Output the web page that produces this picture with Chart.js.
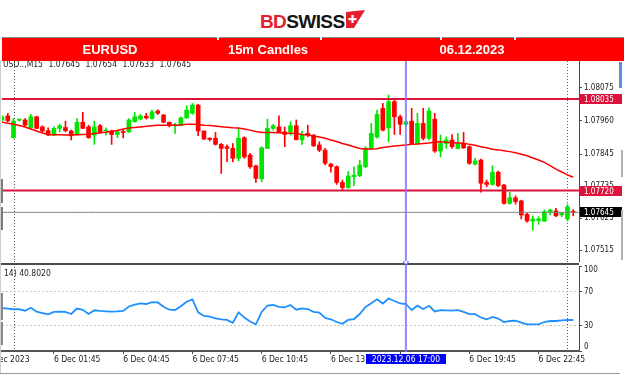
<!DOCTYPE html>
<html><head><meta charset="utf-8">
<script src="https://cdn.jsdelivr.net/npm/chart.js@4.4.0/dist/chart.umd.min.js"></script>
<style>
html,body{margin:0;padding:0;background:#fff;}
body{width:624px;height:376px;overflow:hidden;position:relative;font-family:'Liberation Sans',Arial,sans-serif;}
.abs{position:absolute;}
#band{position:absolute;left:2px;top:37px;width:622px;height:24px;background:#ff0000;border-top:1px solid #8a8a8a;box-sizing:border-box;z-index:5;}
.cell{position:absolute;top:0;height:23px;line-height:23px;color:#fff;font-weight:bold;font-size:13px;white-space:nowrap;transform:translateX(-50%);}
.notch{position:absolute;top:-1px;width:2px;height:3px;background:#fff;}
.mt{position:absolute;font-family:'DejaVu Sans Condensed','Liberation Sans',sans-serif;font-size:8.5px;line-height:10px;color:#1a1a1a;white-space:nowrap;z-index:4;}
canvas{position:absolute;left:0;}
</style></head><body>

<div class="abs" style="left:260px;top:12px;font-weight:bold;font-size:19px;line-height:19px;letter-spacing:-0.6px;white-space:nowrap;"><span style="color:#e41e2b">BD</span><span style="color:#141414">SWISS</span></div>
<svg class="abs" style="left:345px;top:10px" width="20" height="18" viewBox="0 0 20 18">
  <polygon points="1,2 20,0 9,18 1,18" fill="#e41e2b"/>
  <rect x="3.5" y="8" width="8" height="2.2" fill="#fff"/>
  <rect x="6.4" y="5" width="2.2" height="8" fill="#fff"/>
</svg>

<div id="band">
  <div class="notch" style="left:215px"></div>
  <div class="notch" style="left:318px"></div>
  <div class="notch" style="left:438px"></div>
  <div class="notch" style="left:512px"></div>
  <div class="cell" style="left:108px">EURUSD</div>
  <div class="cell" style="left:266px">15m Candles</div>
  <div class="cell" style="left:470px">06.12.2023</div>
</div>

<canvas id="price" width="624" height="201" style="top:61px"></canvas>
<canvas id="rsi" width="624" height="112" style="top:261px"></canvas>

<div class="mt" style="left:3px;top:58.5px;word-spacing:3px;">USD..,M15 1.07645 1.07654 1.07633 1.07645</div>
<div class="mt" style="left:4px;top:268px;">14) 40.8020</div>

<div class="abs" style="left:0;top:61px;width:1px;height:312px;background:#cfcfcf"></div>
<div class="abs" style="left:1px;top:179px;width:2px;height:24px;background:#7a7a7a"></div>
<div class="abs" style="left:1px;top:207px;width:2px;height:23px;background:#7a7a7a"></div>
<div class="abs" style="left:1px;top:293px;width:2px;height:27px;background:#8a8a8a"></div>
<div class="abs" style="left:1px;top:322px;width:2px;height:23px;background:#8a8a8a"></div>
<div class="abs" style="left:0;top:373px;width:620px;height:1px;background:#9a9a9a"></div>
<div class="abs" style="left:619px;top:62px;width:3px;height:26px;background:#5a8ee0"></div>
<div class="abs" style="left:621px;top:150px;width:2px;height:27px;background:#b0b0b0"></div>
<div class="abs" style="left:621px;top:210px;width:2px;height:50px;background:#b0b0b0"></div>

<script>
const FONT = "'DejaVu Sans Condensed', 'Liberation Sans', sans-serif";

// ---- categories: 15-minute bars, 5 Dec 23:30 .. 7 Dec 00:30 ----
const categories = [];
const startMs = Date.UTC(2023, 11, 5, 23, 30);
for (let k = 0; k <= 100; k++) {
  const d = new Date(startMs + k * 15 * 60000);
  categories.push(d.getUTCDate() + ' Dec ' + String(d.getUTCHours()).padStart(2, '0') + ':' + String(d.getUTCMinutes()).padStart(2, '0'));
}

// ---- candle data (EURUSD M15) ----
const opens = [1.07963,1.07977,1.07902,1.07962,1.07963,1.07936,1.07974,1.07939,1.07926,1.07911,
1.07934,1.07937,1.07925,1.07913,1.07955,1.07939,1.07911,1.07943,1.07925,1.07925,
1.07913,1.07922,1.07922,1.07957,1.07966,1.07976,1.07968,1.07994,1.07980,1.07955,
1.07943,1.07945,1.07970,1.07986,1.08014,1.07925,1.07900,1.07900,1.07879,1.07871,
1.07865,1.07831,1.07902,1.07842,1.07805,1.07760,1.07865,1.07934,1.07939,1.07922,
1.07922,1.07943,1.07894,1.07917,1.07911,1.07877,1.07859,1.07811,1.07802,1.07748,
1.07730,1.07768,1.07771,1.07802,1.07865,1.07905,1.08003,1.07936,1.08026,1.07974,
1.07948,1.07959,1.07882,1.07951,1.07900,1.07966,1.07856,1.07882,1.07894,1.07865,
1.07882,1.07871,1.07811,1.07825,1.07748,1.07741,1.07783,1.07739,1.07676,1.07695,
1.07684,1.07638,1.07615,1.07617,1.07615,1.07647,1.07650,1.07636,1.07622,1.07645];
const highs = [1.07978,1.07986,1.07969,1.07966,1.07968,1.07982,1.07976,1.07943,1.07936,1.07939,
1.07948,1.07959,1.07928,1.07968,1.07989,1.07945,1.07959,1.07948,1.07936,1.07928,
1.07928,1.07928,1.07968,1.07989,1.07982,1.07986,1.07997,1.07998,1.07982,1.07956,
1.07951,1.07974,1.08012,1.08020,1.08017,1.07926,1.07902,1.07920,1.07882,1.07877,
1.07882,1.07934,1.07905,1.07848,1.07808,1.07871,1.07966,1.07948,1.07977,1.07939,
1.07957,1.07963,1.07925,1.07945,1.07913,1.07888,1.07865,1.07814,1.07805,1.07756,
1.07785,1.07802,1.07825,1.07871,1.07951,1.07997,1.08020,1.08049,1.08031,1.07980,
1.07959,1.08003,1.07986,1.08003,1.08005,1.07986,1.07911,1.07905,1.07913,1.07917,
1.07920,1.07874,1.07831,1.07828,1.07756,1.07805,1.07787,1.07741,1.07714,1.07702,
1.07687,1.07642,1.07633,1.07630,1.07653,1.07655,1.07659,1.07645,1.07673,1.07654];
const lows = [1.07959,1.07957,1.07900,1.07959,1.07943,1.07934,1.07933,1.07922,1.07909,1.07909,
1.07922,1.07922,1.07894,1.07911,1.07933,1.07900,1.07879,1.07917,1.07911,1.07879,
1.07902,1.07901,1.07920,1.07955,1.07963,1.07966,1.07966,1.07982,1.07953,1.07939,
1.07917,1.07943,1.07968,1.07982,1.07909,1.07895,1.07891,1.07877,1.07779,1.07819,
1.07819,1.07822,1.07831,1.07796,1.07748,1.07750,1.07865,1.07928,1.07920,1.07871,
1.07911,1.07894,1.07879,1.07905,1.07871,1.07854,1.07808,1.07783,1.07741,1.07722,
1.07728,1.07737,1.07768,1.07798,1.07863,1.07900,1.07925,1.07888,1.07913,1.07913,
1.07946,1.07879,1.07879,1.07894,1.07894,1.07851,1.07836,1.07865,1.07865,1.07863,
1.07865,1.07810,1.07808,1.07714,1.07733,1.07739,1.07733,1.07673,1.07673,1.07673,
1.07622,1.07611,1.07584,1.07604,1.07613,1.07636,1.07630,1.07630,1.07615,1.07633];
const closes = [1.07974,1.07960,1.07959,1.07966,1.07945,1.07974,1.07934,1.07925,1.07911,1.07934,
1.07943,1.07926,1.07909,1.07955,1.07934,1.07902,1.07939,1.07920,1.07928,1.07913,
1.07922,1.07920,1.07963,1.07974,1.07977,1.07970,1.07991,1.07986,1.07955,1.07943,
1.07948,1.07970,1.07997,1.08014,1.07925,1.07897,1.07896,1.07879,1.07865,1.07865,
1.07831,1.07900,1.07836,1.07802,1.07762,1.07867,1.07934,1.07943,1.07922,1.07913,
1.07943,1.07895,1.07913,1.07911,1.07874,1.07859,1.07814,1.07802,1.07748,1.07730,
1.07770,1.07773,1.07808,1.07865,1.07917,1.07982,1.07928,1.08026,1.07974,1.07948,
1.07957,1.07882,1.07951,1.07900,1.07994,1.07856,1.07882,1.07894,1.07871,1.07882,
1.07867,1.07814,1.07822,1.07745,1.07741,1.07783,1.07737,1.07676,1.07695,1.07682,
1.07636,1.07615,1.07622,1.07622,1.07647,1.07653,1.07633,1.07642,1.07664,1.07645];

// moving average (red line)
const maValues = [1.07956,1.07952,1.07948,1.07944,1.07939,1.07932,1.07925,1.07918,1.07913,1.07912,
1.07912,1.07911,1.07911,1.07912,1.07913,1.07914,1.07916,1.07919,1.07921,1.07924,
1.07927,1.07932,1.07935,1.07937,1.07939,1.07941,1.07943,1.07945,1.07945,1.07945,
1.07945,1.07946,1.07948,1.07948,1.07947,1.07945,1.07944,1.07942,1.07940,1.07938,
1.07936,1.07935,1.07932,1.07928,1.07923,1.07920,1.07920,1.07920,1.07919,1.07918,
1.07917,1.07916,1.07913,1.07911,1.07908,1.07904,1.07900,1.07894,1.07889,1.07882,
1.07877,1.07871,1.07865,1.07863,1.07863,1.07864,1.07868,1.07871,1.07873,1.07875,
1.07877,1.07879,1.07880,1.07882,1.07884,1.07887,1.07888,1.07886,1.07885,1.07884,
1.07883,1.07879,1.07876,1.07871,1.07867,1.07862,1.07860,1.07857,1.07854,1.07850,
1.07845,1.07840,1.07832,1.07825,1.07817,1.07806,1.07794,1.07784,1.07774,1.07766];

// RSI(14)
const rsiValues = [50.6,49.8,49.1,49.1,47.4,50.9,46.2,44.7,43.2,46.0,
46.2,46.1,43.5,50.0,48.5,43.5,47.9,47.1,46.7,46.4,
46.6,47.1,52.4,54.6,56.1,55.3,57.4,57.1,52.0,48.6,
48.2,52.6,58.0,60.8,45.5,41.2,40.5,38.5,37.1,36.5,
33.2,45.5,39.3,34.7,31.4,45.9,53.5,54.1,52.0,51.4,
54.1,48.6,50.1,49.4,46.0,45.1,38.8,37.3,34.1,32.0,
36.5,37.6,43.5,51.8,56.1,60.8,55.9,61.8,58.8,55.9,
55.3,48.2,53.3,49.4,53.2,46.5,48.2,47.9,47.5,48.0,
46.1,43.5,43.3,39.4,37.3,40.0,38.2,34.1,35.3,35.6,
33.5,31.4,31.4,31.4,34.1,35.3,35.3,36.1,36.5,36.5];

// ticks, levels, annotations
const priceTicks = [1.08075, 1.07960, 1.07845, 1.07735, 1.07625, 1.07515];
const priceMin = 1.07474, priceMax = 1.08166;
const levels = [1.08035, 1.07720];
const bidPrice = 1.07645;
const rsiMidTicks = [30, 70];
const rsiTopTick = [100];
const rsiBottomTick = [0];
const rsiLevels = [30, 70];
const xTickLabels = ['6 Dec 01:45','6 Dec 04:45','6 Dec 07:45','6 Dec 10:45','6 Dec 13:45','6 Dec 16:45','6 Dec 19:45','6 Dec 22:45'];
const daySeparators = ['6 Dec 00:00', '7 Dec 00:00'];
const firstDateLabel = '6 Dec 2023';
const crosshairTime = '6 Dec 17:00';
const crosshairLabel = '2023.12.06 17:00';

const BULL = '#00e600', BEAR = '#ff0000', LEVEL = '#dc143c';
const AXIS = '#4a4a4a';

const idx = t => categories.indexOf(t);
function vline(ctx, x, y1, y2, color, width, dash) {
  ctx.save(); ctx.strokeStyle = color; ctx.lineWidth = width; ctx.setLineDash(dash || []);
  ctx.beginPath(); ctx.moveTo(x, y1); ctx.lineTo(x, y2); ctx.stroke(); ctx.restore();
}

const priceDecor = {
  id: 'priceDecor',
  beforeDatasetsDraw(chart) {
    const {ctx, chartArea: a, scales: {x}} = chart;
    daySeparators.forEach(t => {
      const px = Math.round(x.getPixelForValue(idx(t))) + 0.5;
      vline(ctx, px, a.top, a.bottom, '#5a5a5a', 1, [1, 2]);
    });
  },
  afterDatasetsDraw(chart) {
    const {ctx, chartArea: a, scales: {x}} = chart;
    vline(ctx, x.getPixelForValue(idx(crosshairTime)), a.top, a.bottom, 'rgba(120,120,255,0.85)', 2);
  },
  afterDraw(chart) {
    const {ctx, chartArea: a, scales: {y}} = chart;
    const tags = [[levels[0], LEVEL], [levels[1], LEVEL], [bidPrice, '#000']];
    ctx.save();
    ctx.font = '8px ' + FONT; ctx.textAlign = 'left'; ctx.textBaseline = 'middle';
    tags.forEach(([v, c]) => {
      const py = Math.round(y.getPixelForValue(v));
      ctx.fillStyle = c; ctx.fillRect(a.right + 1, py - 5, 42, 10);
      ctx.fillStyle = '#fff'; ctx.fillText(v.toFixed(5), a.right + 5, py + 0.5);
    });
    ctx.restore();
  }
};

const rsiDecor = {
  id: 'rsiDecor',
  afterLayout(chart) {
    // the clamped 100 / 0 label axes share the label column of the main RSI axis
    ['yTop', 'yBot'].forEach(id => {
      const s = chart.scales[id];
      s.left = chart.chartArea.right; s.right = chart.width; s.width = s.right - s.left;
    });
  },
  beforeDatasetsDraw(chart) {
    const {ctx, chartArea: a, scales: {x}} = chart;
    daySeparators.forEach(t => {
      const px = Math.round(x.getPixelForValue(idx(t))) + 0.5;
      vline(ctx, px, a.top - 5, a.bottom, '#5a5a5a', 1, [1, 2]);
    });
  },
  afterDraw(chart) {
    const {ctx, chartArea: a, scales: {x}} = chart;
    ctx.save();
    ctx.fillStyle = '#4d4d4d';
    ctx.fillRect(0, a.top - 3, a.right, 2);
    const cx = x.getPixelForValue(idx(crosshairTime));
    vline(ctx, cx, a.top - 5, a.bottom + 1, 'rgba(120,120,255,0.85)', 2);
    ctx.beginPath(); ctx.arc(cx, a.top - 4, 2.2, 0, Math.PI * 2);
    ctx.fillStyle = '#fff'; ctx.fill(); ctx.strokeStyle = '#5050ff'; ctx.lineWidth = 1; ctx.stroke();
    ctx.font = '8.5px ' + FONT; ctx.textBaseline = 'middle';
    const ly = a.bottom + 4 + 5.1;
    ctx.fillStyle = '#1a1a1a'; ctx.textAlign = 'right';
    ctx.fillText(firstDateLabel, x.getPixelForValue(idx(daySeparators[0])) + 16, ly);
    const w = ctx.measureText(crosshairLabel).width + 12;
    ctx.fillStyle = '#0000ff';
    ctx.fillRect(Math.round(cx - w / 2), a.bottom + 3, Math.round(w), 10);
    ctx.fillStyle = '#fff'; ctx.textAlign = 'center';
    ctx.fillText(crosshairLabel, cx, a.bottom + 8.5);
    ctx.restore();
  }
};

Chart.defaults.font.family = FONT;

new Chart(document.getElementById('price'), {
  type: 'bar',
  data: {
    labels: categories,
    datasets: [
      {type: 'line', data: categories.map(() => levels[0]), borderColor: LEVEL, borderWidth: 2, pointRadius: 0, order: 0},
      {type: 'line', data: categories.map(() => levels[1]), borderColor: LEVEL, borderWidth: 2, pointRadius: 0, order: 0},
      {type: 'line', data: categories.map(() => bidPrice), borderColor: '#808080', borderWidth: 1, pointRadius: 0, order: 0},
      {type: 'line', data: maValues, borderColor: '#ff0000', borderWidth: 1.5, pointRadius: 0, tension: 0, order: 1},
      {type: 'bar', data: opens.map((o, i) => [o, closes[i]]), backgroundColor: opens.map((o, i) => closes[i] > o ? BULL : BEAR),
       barThickness: 4, minBarLength: 1, grouped: false, borderWidth: 0, order: 2},
      {type: 'bar', data: lows.map((l, i) => [l, highs[i]]), backgroundColor: opens.map((o, i) => closes[i] > o ? BULL : BEAR),
       barThickness: 1, grouped: false, borderWidth: 0, order: 3}
    ]
  },
  options: {
    responsive: false, animation: false, events: [],
    layout: {padding: {left: 2, right: 0, top: 0, bottom: 0}},
    plugins: {legend: {display: false}, tooltip: {enabled: false}},
    scales: {
      x: {type: 'category', offset: false, display: false},
      y: {
        position: 'right', min: priceMin, max: priceMax,
        afterBuildTicks: s => { s.ticks = priceTicks.map(v => ({value: v})); },
        afterFit: s => { s.width = 45; s.paddingTop = 0; s.paddingBottom = 0; },
        grid: {drawOnChartArea: false, drawTicks: true, tickLength: 3, tickColor: AXIS},
        border: {display: true, color: AXIS, width: 1},
        ticks: {color: '#1a1a1a', font: {size: 8}, padding: 2, callback: v => Number(v).toFixed(5)}
      }
    }
  },
  plugins: [priceDecor]
});

const sideAxis = (tickVals, align, weight, width) => ({
  position: 'right', min: 0, max: 100, weight: weight,
  afterBuildTicks: s => { s.ticks = tickVals.map(v => ({value: v})); },
  afterFit: s => { s.width = width; s.paddingTop = 0; s.paddingBottom = 0; },
  grid: {drawOnChartArea: false, drawTicks: true, tickLength: 3, tickColor: AXIS},
  border: {display: width > 0, color: AXIS, width: 1},
  ticks: {color: '#1a1a1a', font: {size: 8}, padding: 2, align: align, callback: v => String(v)}
});

new Chart(document.getElementById('rsi'), {
  type: 'line',
  data: {
    labels: categories,
    datasets: [
      {data: categories.map(() => rsiLevels[0]), borderColor: '#c4c4c4', borderWidth: 1, borderDash: [2, 2], pointRadius: 0},
      {data: categories.map(() => rsiLevels[1]), borderColor: '#c4c4c4', borderWidth: 1, borderDash: [2, 2], pointRadius: 0},
      {data: rsiValues, borderColor: '#1e90ff', borderWidth: 1.8, pointRadius: 0, tension: 0}
    ]
  },
  options: {
    responsive: false, animation: false, events: [],
    layout: {padding: {left: 2, right: 0, top: 5, bottom: 0}},
    plugins: {legend: {display: false}, tooltip: {enabled: false}},
    scales: {
      x: {
        type: 'category', offset: false,
        afterFit: s => { s.height = 22; s.paddingLeft = 0; s.paddingRight = 0; },
        grid: {drawOnChartArea: false, drawTicks: true, tickLength: 3,
               tickColor: c => xTickLabels.includes(categories[c.index]) ? AXIS : 'rgba(0,0,0,0)'},
        border: {display: true, color: '#555', width: 2},
        ticks: {autoSkip: false, maxRotation: 0, minRotation: 0, align: 'start', padding: 1, color: '#1a1a1a', font: {size: 8.5},
                callback: (v, i) => xTickLabels.includes(categories[i]) ? categories[i] : ''}
      },
      y: sideAxis(rsiMidTicks, 'center', 1, 45),
      yTop: Object.assign(sideAxis(rsiTopTick, 'start', 0, 0), {axis: 'y'}),
      yBot: Object.assign(sideAxis(rsiBottomTick, 'end', 0, 0), {axis: 'y'})
    }
  },
  plugins: [rsiDecor]
});
</script>
</body></html>
